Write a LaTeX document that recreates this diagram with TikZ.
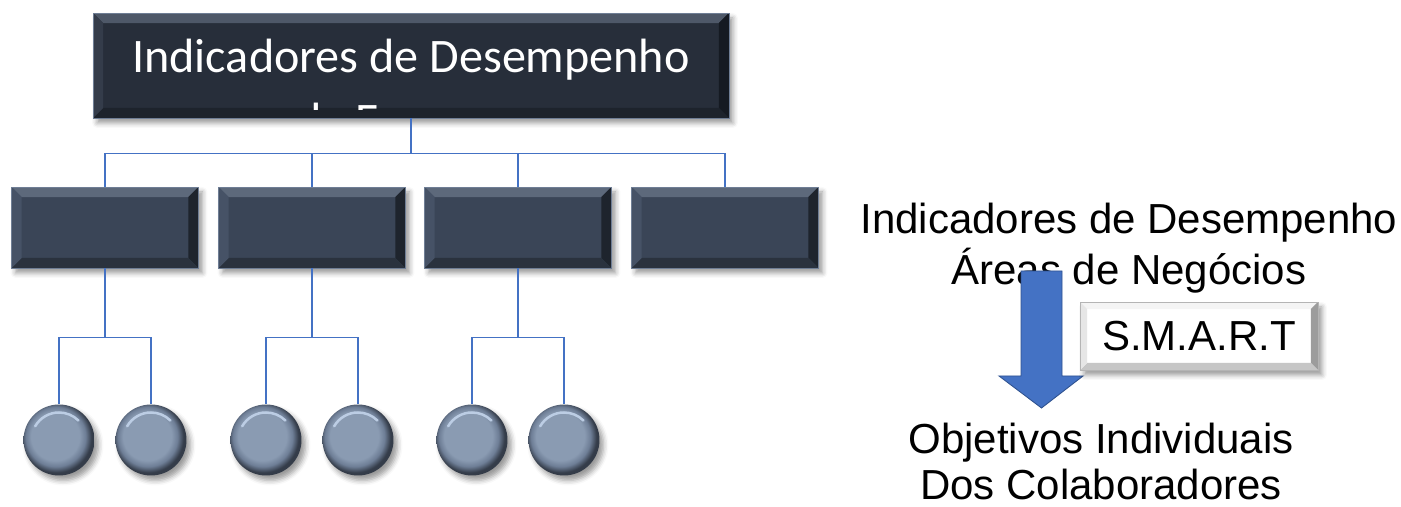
\documentclass[tikz,border=0pt]{standalone}
\usepackage{fontspec}
\setmainfont{Liberation Sans}
\newfontfamily\calibri{Carlito}
\usepackage{tikz}
\usetikzlibrary{calc,shadows.blur}

\definecolor{topbody}{HTML}{272E3A}
\definecolor{toptop}{HTML}{4E5868}
\definecolor{topright}{HTML}{151A22}
\definecolor{topbottom}{HTML}{1D232C}
\definecolor{topleft}{HTML}{343C4A}
\definecolor{boxbody}{HTML}{3A4557}
\definecolor{boxtop}{HTML}{5D697B}
\definecolor{boxright}{HTML}{1E242D}
\definecolor{boxbottom}{HTML}{2A323E}
\definecolor{boxleft}{HTML}{465266}
\definecolor{boxedge}{HTML}{6F7E95}
\definecolor{circbody}{HTML}{8A9BB2}
\definecolor{circmid}{HTML}{6E7E96}
\definecolor{circdark}{HTML}{343C49}
\definecolor{circhi}{HTML}{BCCDE4}
\definecolor{linkblue}{HTML}{4472C4}
\definecolor{arrowedge}{HTML}{2F528F}
\definecolor{smartedge}{HTML}{B4B4B4}
\definecolor{smarttop}{HTML}{F4F4F4}
\definecolor{smartright}{HTML}{9C9C9C}
\definecolor{smartbottom}{HTML}{C6C6C6}
\definecolor{smartleft}{HTML}{E6E6E6}

\pgfdeclareradialshading{knobshade}{\pgfpoint{-4bp}{4bp}}{color(0bp)=(circbody); color(17bp)=(circbody); color(21bp)=(circmid); color(25bp)=(circdark); color(50bp)=(circdark)}

\tikzset{
  conn/.style={draw=linkblue, line width=0.03cm},
  softshadow/.style={blur shadow={shadow xshift=0.08cm, shadow yshift=-0.1cm, shadow blur radius=0.1cm, shadow opacity=40}},
  bevel/.style n args={5}{path picture={
    \coordinate (pnw) at (path picture bounding box.north west);
    \coordinate (pne) at (path picture bounding box.north east);
    \coordinate (pse) at (path picture bounding box.south east);
    \coordinate (psw) at (path picture bounding box.south west);
    \fill[#1] (pnw) -- (pne) -- ($(pne)+(-#5,-#5)$) -- ($(pnw)+(#5,-#5)$) -- cycle;
    \fill[#2] (pne) -- (pse) -- ($(pse)+(-#5,#5)$) -- ($(pne)+(-#5,-#5)$) -- cycle;
    \fill[#3] (pse) -- (psw) -- ($(psw)+(#5,#5)$) -- ($(pse)+(-#5,#5)$) -- cycle;
    \fill[#4] (psw) -- (pnw) -- ($(pnw)+(#5,-#5)$) -- ($(psw)+(#5,#5)$) -- cycle;
  }},
  topbox/.style={rectangle, fill=topbody, draw=boxedge, line width=0.4pt, inner sep=0pt,
    minimum width=12.72cm, minimum height=2.1cm, softshadow,
    bevel={toptop}{topright}{topbottom}{topleft}{0.2cm}},
  areabox/.style={rectangle, fill=boxbody, draw=boxedge, line width=0.4pt, inner sep=0pt,
    minimum width=3.74cm, minimum height=1.62cm, softshadow,
    bevel={boxtop}{boxright}{boxbottom}{boxleft}{0.2cm}},
  knob/.style={circle, minimum size=1.42cm, inner sep=0pt, shading=knobshade, softshadow,
    path picture={\draw[circhi, line width=0.05cm, line cap=round]
      ($(path picture bounding box.center)+(150:0.55cm)$) arc[start angle=150, end angle=45, radius=0.55cm];}},
  toptext/.style={text=white, inner sep=0pt, font=\calibri\fontsize{27.4}{32}\selectfont},
  bigtext/.style={inner sep=0pt, font=\fontsize{23.9}{28}\selectfont},
  smartbox/.style={rectangle, fill=white, draw=smartedge, line width=0.4pt, inner sep=0pt,
    minimum width=4.76cm, minimum height=1.36cm, softshadow, font=\fontsize{23.9}{28}\selectfont,
    bevel={smarttop}{smartright}{smartbottom}{smartleft}{0.14cm}}
}

\begin{document}
\begin{tikzpicture}[x=0.02cm, y=0.02cm]
  \useasboundingbox (0,0) rectangle (1401,507);

  % chart
  \node[topbox] (top) at (411,441.5) {};
  \begin{scope}
    \clip ($(top.north west)+(0.2cm,-0.2cm)$) rectangle (729,397);
    \node[toptext, anchor=base] (topline1) at (411,434) {Indicadores de Desempenho};
    \node[toptext, anchor=base] (topline2) at (411,370) {da Empresa};
  \end{scope}

  \foreach \i/\x in {1/105, 2/312, 3/518, 4/725}
    \node[areabox] (area\i) at (\x,279.5) {};

  \foreach \i/\x in {1/59, 2/151, 3/266, 4/358, 5/472, 6/564}
    \node[knob] (ball\i) at (\x,67) {};

  \foreach \i in {1,...,4}
    \draw[conn] (top.south) -- ++(0,-35) -| (area\i.north);

  \foreach \i/\a/\b in {1/1/2, 2/3/4, 3/5/6} {
    \draw[conn] (area\i.south) -- ++(0,-69) coordinate (fork\i);
    \draw[conn] (ball\a.north) |- (fork\i) -| (ball\b.north);
  }

  % right side
  \node[bigtext, anchor=base] (kpi1) at (1129,273) {Indicadores de Desempenho};
  \node[bigtext, anchor=base] (kpi2) at (1129,222) {Áreas de Negócios};
  \filldraw[fill=linkblue, draw=arrowedge, line width=0.5pt]
    (1021,236) -- (1062,236) -- (1062,131) -- (1083,131) -- (1041.5,99)
    -- (999,131) -- (1021,131) -- cycle;
  \node[smartbox] (smart) at (1199,171) {S.M.A.R.T};
  \node[bigtext, anchor=base] (goal1) at (1101,53) {Objetivos Individuais};
  \node[bigtext, anchor=base] (goal2) at (1101,7) {Dos Colaboradores};
\end{tikzpicture}
\end{document}
